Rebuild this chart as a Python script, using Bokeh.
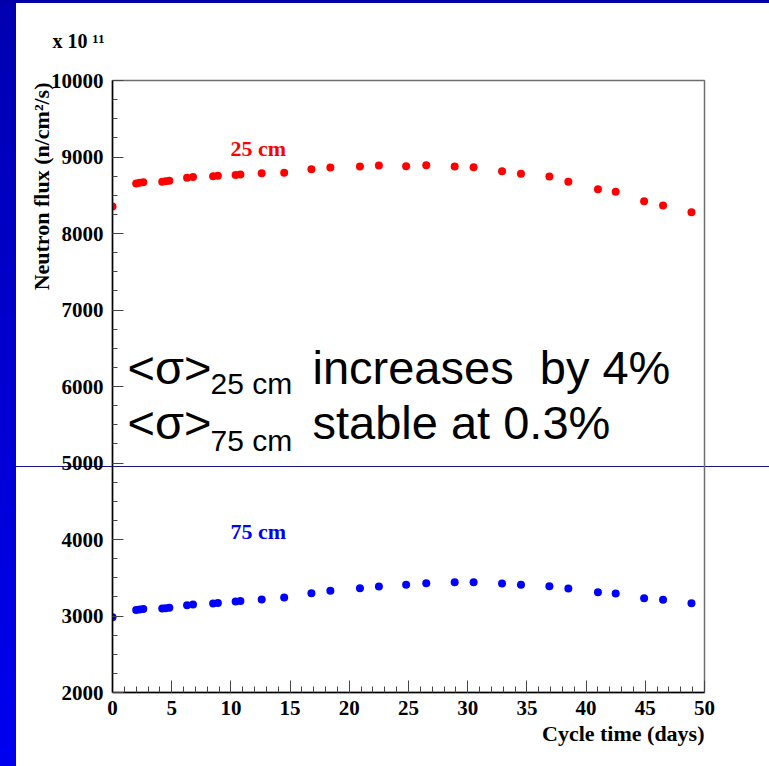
from bokeh.plotting import figure
from bokeh.models import Range1d, FixedTicker, Label, Title
from bokeh.embed import file_html
from bokeh.resources import INLINE

# ---------------- data ----------------
days = [0, 2.0, 2.3, 2.6, 4.2, 4.5, 4.8, 6.3, 6.8, 8.5, 8.9, 10.4, 10.8,
        12.6, 14.5, 16.8, 18.4, 20.9, 22.5, 24.8, 26.5, 28.9, 30.5, 32.9,
        34.5, 36.9, 38.5, 41.0, 42.5, 44.9, 46.5, 48.9]
flux_25cm = [8353, 8655, 8663, 8670, 8678, 8684, 8690, 8730, 8740, 8750, 8756,
             8764, 8770, 8788, 8793, 8841, 8863, 8876, 8889, 8880, 8893, 8876,
             8867, 8814, 8780, 8745, 8676, 8579, 8545, 8422, 8366, 8278]
flux_75cm = [2984, 3080, 3085, 3090, 3097, 3102, 3107, 3140, 3150, 3163, 3170,
             3188, 3196, 3216, 3242, 3298, 3329, 3363, 3386, 3410, 3429, 3442,
             3442, 3425, 3408, 3390, 3359, 3311, 3294, 3233, 3212, 3167]
x_ticks = [0, 5, 10, 15, 20, 25, 30, 35, 40, 45, 50]
x_minor = list(range(0, 51))
y_ticks = [2000, 3000, 4000, 5000, 6000, 7000, 8000, 9000, 10000]
y_minor = list(range(2000, 10001, 250))

# ---------------- layout ----------------
W, H = 769, 766
L, R, T, B = 112, 65, 80, 74
X0, X1 = 0, 50
Y0, Y1 = 2000, 10000
FW = W - L - R
FH = H - T - B


def dx(px):
    return X0 + (px - L) * (X1 - X0) / FW


def dy(py):
    return Y1 - (py - T) * (Y1 - Y0) / FH


SERIF = "Liberation Serif"
SANS = "Liberation Sans"

# slide decoration behind a transparent canvas: blue bars and a thin rule
slide_bg = ("linear-gradient(to bottom, #0000aa 0px, #0000aa 3px, transparent 3px), "
            "linear-gradient(to bottom, #0000b0, #0000f0) 0 0 / 16px 100% no-repeat, "
            "linear-gradient(to bottom, transparent 466px, #14148c 466px, "
            "#14148c 467px, transparent 467px) 16px 0 / 100% 100% no-repeat, "
            "white")

p = figure(width=W, height=H, x_range=Range1d(X0, X1), y_range=Range1d(Y0, Y1),
           output_backend="svg", toolbar_location=None,
           min_border_left=L, min_border_right=R, min_border_top=T, min_border_bottom=B,
           styles={"background": slide_bg})
p.grid.visible = False
p.background_fill_color = None
p.border_fill_color = None
p.outline_line_color = "#6e6e6e"
p.outline_line_width = 1.5

for ax, ticks, minor, tin, mtin, standoff in (
        (p.xaxis[0], x_ticks, x_minor, 12, 6, 8),
        (p.yaxis[0], y_ticks, y_minor, 11, 5, 9)):
    ax.ticker = FixedTicker(ticks=ticks, minor_ticks=minor)
    ax.major_tick_in = tin
    ax.major_tick_out = 0
    ax.minor_tick_in = mtin
    ax.minor_tick_out = 0
    ax.axis_line_color = "black"
    ax.axis_line_width = 1.5
    ax.major_tick_line_color = "#444444"
    ax.minor_tick_line_color = "#444444"
    ax.major_label_text_font = SERIF
    ax.major_label_text_font_style = "bold"
    ax.major_label_text_font_size = "21px"
    ax.major_label_text_color = "black"
    ax.major_label_standoff = standoff

p.scatter(days, flux_25cm, size=8, color="#ff0000", line_color=None)
p.scatter(days, flux_75cm, size=8, color="#0000ff", line_color=None)

# titles placed in the side panels
p.title.text = "x 10 \u00b9\u00b9"
p.title.align = "left"
p.title.vertical_align = "top"
p.title.offset = -60
p.title.standoff = 53
p.title.text_font = SERIF
p.title.text_font_style = "bold"
p.title.text_font_size = "20px"
p.title.text_color = "black"
p.add_layout(Title(text="Cycle time (days)", align="right", standoff=2,
                   text_font=SERIF, text_font_style="bold", text_font_size="22px",
                   text_color="black"),
             "below")
p.add_layout(Title(text="Neutron flux (n/cm²/s)", align="right", standoff=-13, offset=2,
                   text_font=SERIF, text_font_style="bold", text_font_size="22px",
                   text_color="black"),
             "left")


def label(px, py, text, font=SERIF, size=22, style="bold", color="black"):
    # py is the baseline position
    p.add_layout(Label(x=dx(px), y=dy(py - 0.35 * size), text=text, text_font=font,
                       text_font_size="%dpx" % size, text_font_style=style,
                       text_color=color, text_align="left",
                       text_baseline="alphabetic"))


# series labels
label(230, 156, "25 cm", color="#ff0000")
label(230, 539, "75 cm", color="#0000ff")

# big annotation
label(127, 383, "<σ>", font=SANS, size=47, style="normal")
label(210, 393, "25 cm", font=SANS, size=30, style="normal")
label(312, 383, "increases\u00a0 by 4%", font=SANS, size=47, style="normal")
label(127, 438, "<σ>", font=SANS, size=47, style="normal")
label(210, 450, "75 cm", font=SANS, size=30, style="normal")
label(312, 438, "stable at 0.3%", font=SANS, size=47, style="normal")

open("out.html", "w").write(file_html(p, INLINE))
